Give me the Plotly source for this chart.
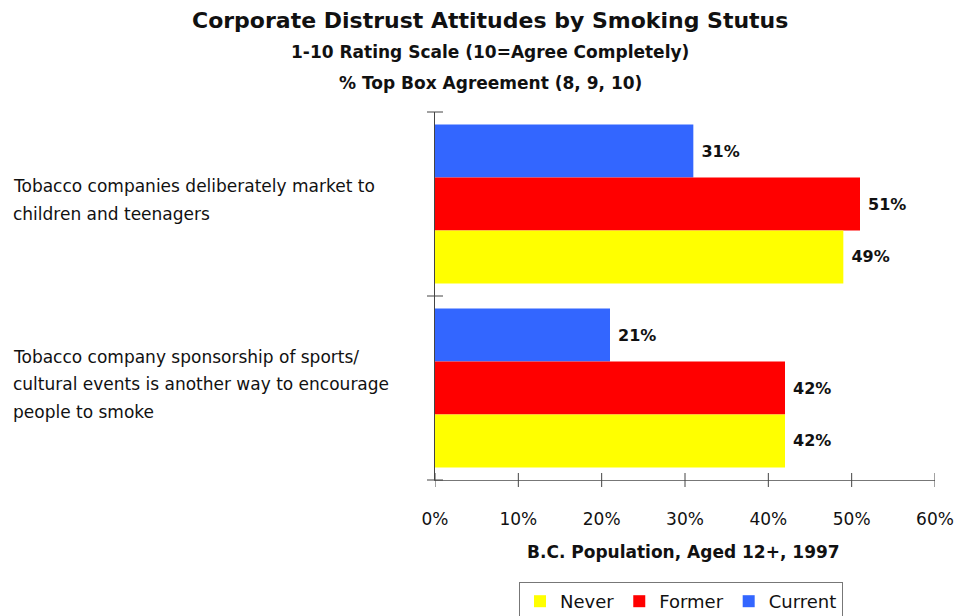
import plotly.graph_objects as go

# Survey statements (top to bottom)
statements = [
    "Tobacco companies deliberately market to<br>children and teenagers",
    "Tobacco company sponsorship of sports/<br>cultural events is another way to encourage<br>people to smoke",
]
# % top box agreement by smoking status
never = [49, 42]
former = [51, 42]
current = [31, 21]

x_ticks = [0, 10, 20, 30, 40, 50, 60]
x_tick_labels = [f"{v}%" for v in x_ticks]

FONT = "Tahoma, DejaVu Sans, sans-serif"
INK = "#111111"

# Plot area in pixels
L, R, T, B = 435, 935, 112, 480
W, H = 956, 616
PH = B - T

fig = go.Figure()
# Traces added in reverse so Current sits on top of each group (y axis reversed)
for name, vals, color in [
    ("Current", current, "#3366FF"),
    ("Former", former, "#FF0000"),
    ("Never", never, "#FFFF00"),
]:
    fig.add_trace(go.Bar(
        name=name, y=statements, x=vals, orientation="h",
        marker=dict(color=color, line=dict(width=0)),
        texttemplate=" <b>%{x}%</b>", textposition="outside",
        textfont=dict(family=FONT, size=16, color=INK),
        cliponaxis=False,
    ))

fig.update_layout(
    width=W, height=H,
    margin=dict(l=L, r=W - R, t=T, b=H - B, autoexpand=False),
    paper_bgcolor="white", plot_bgcolor="white",
    barmode="group", bargap=0.136, bargroupgap=0,
    font=dict(family=FONT, size=16, color=INK),
    showlegend=True,
    legend=dict(
        orientation="h", traceorder="reversed",
        x=(681 - L) / (R - L), xanchor="center",
        y=-(582 - B) / PH, yanchor="top",
        bordercolor="#777777", borderwidth=1,
        font=dict(family=FONT, size=18, color=INK),
        itemwidth=30,
    ),
    xaxis=dict(
        range=[0, 60], tickvals=x_ticks, ticktext=x_tick_labels,
        showgrid=False, zeroline=False, automargin=False,
        showline=True, linecolor="#777777", linewidth=1,
        ticks="", ticklabelstandoff=24,
        tickfont=dict(family=FONT, size=17, color=INK),
    ),
    yaxis=dict(
        autorange="reversed", showticklabels=False, automargin=False,
        showgrid=False, zeroline=False,
        showline=True, linecolor="#444444", linewidth=1,
        ticks="",
    ),
)

# Crossing tick marks on the value axis
for v in x_ticks:
    fig.add_shape(
        type="line", xref="x", x0=v, x1=v,
        yref="paper", ysizemode="pixel", yanchor=0, y0=-7, y1=7,
        line=dict(color="#444444", width=1),
    )
# Crossing tick marks at the category boundaries
for yb in [0, 0.5, 1]:
    fig.add_shape(
        type="line", yref="paper", y0=yb, y1=yb,
        xref="paper", xsizemode="pixel", xanchor=0, x0=-8, x1=8,
        line=dict(color="#444444", width=1),
    )

# Statement labels, left aligned in the left margin, one line at a time
LINE_STEP = 27.5
for txt in statements:
    lines = txt.split("<br>")
    n = len(lines)
    for i, line in enumerate(lines):
        fig.add_annotation(
            x=0, xref="paper", xanchor="left", xshift=-(L - 11),
            y=txt, yref="y", yanchor="middle",
            yshift=-((i - (n - 1) / 2) * LINE_STEP - 4),
            text=line, align="left", showarrow=False,
            font=dict(family=FONT, size=17, color=INK),
        )

def px_y(ypix):
    return 1 + (T - ypix) / PH

def px_x(xpix):
    return (xpix - L) / (R - L)

# Title block
titles = [
    ("<b>Corporate Distrust Attitudes by Smoking Stutus</b>", 22, 20),
    ("<b>1-10 Rating Scale (10=Agree Completely)</b>", 17, 52),
    ("<b>% Top Box Agreement (8, 9, 10)</b>", 17, 83),
]
for txt, size, ypix in titles:
    fig.add_annotation(
        x=px_x(490), xref="paper", xanchor="center",
        y=px_y(ypix), yref="paper", yanchor="middle",
        text=txt, showarrow=False,
        font=dict(family=FONT, size=size, color=INK),
    )

# Value axis title
fig.add_annotation(
    x=px_x(683), xref="paper", xanchor="center",
    y=px_y(552), yref="paper", yanchor="middle",
    text="<b>B.C. Population, Aged 12+, 1997</b>", showarrow=False,
    font=dict(family=FONT, size=17, color=INK),
)

fig.write_html("out.html")
